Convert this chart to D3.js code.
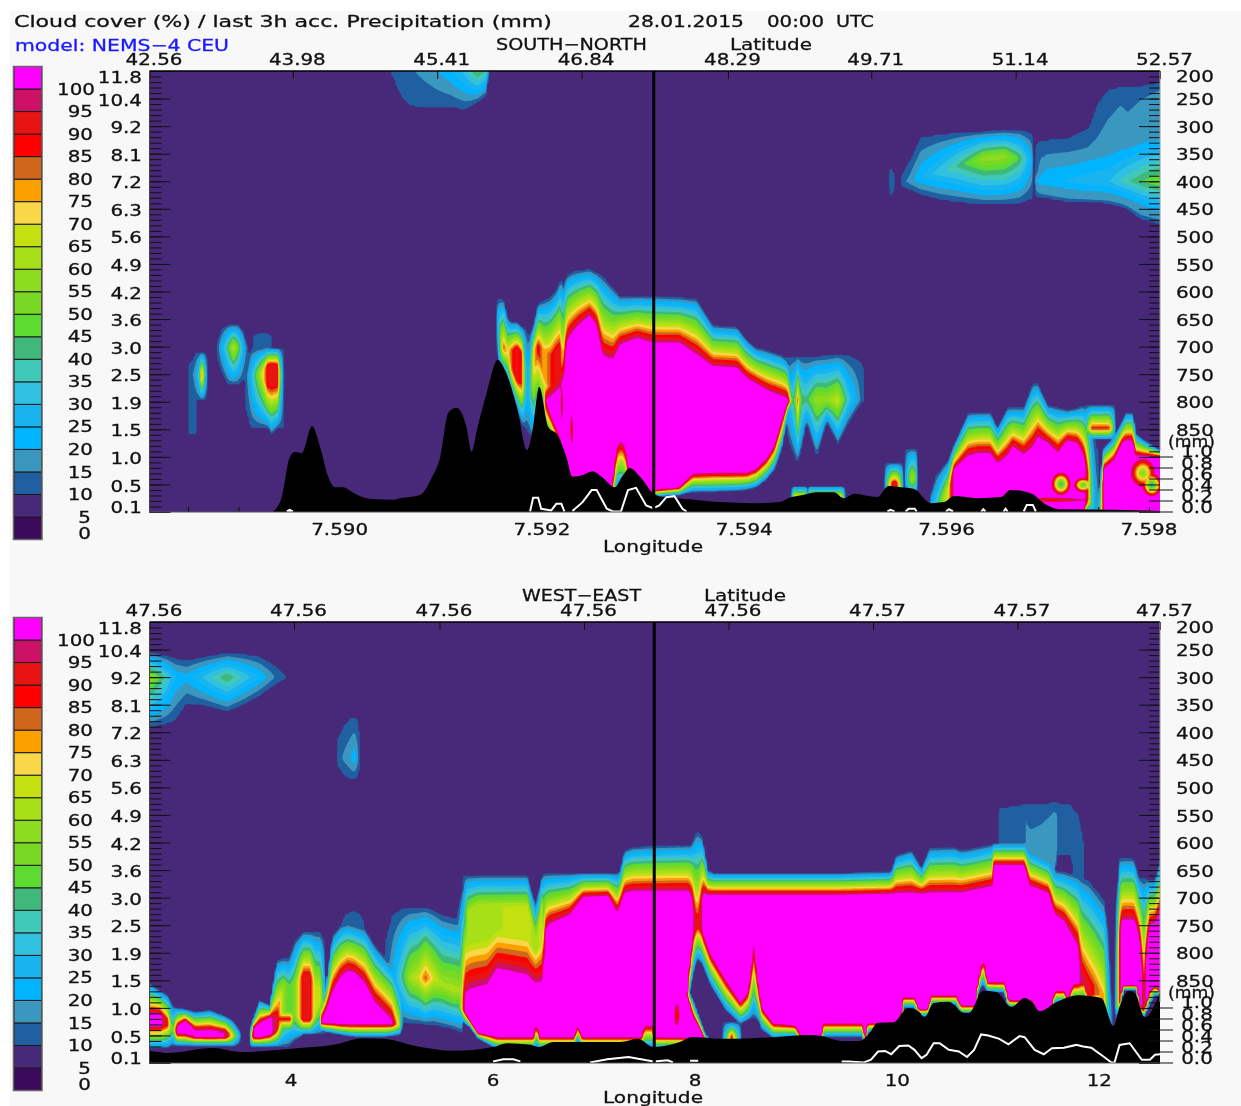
<html lang="en">
<head>
<meta charset="utf-8">
<title>Cloud cover cross sections</title>
<script src="https://cdnjs.cloudflare.com/ajax/libs/d3/7.8.5/d3.min.js"></script>
<style>
    body { margin: 0; background: #fff; }
    svg { display: block; filter: blur(0.45px); }
    text { font-family: "DejaVu Sans", sans-serif; fill: #111; stroke: #111; stroke-width: 0.3px; }
</style>
</head>
<body>
<div id="chart"></div>
<script>
// colour bar, from lowest band to highest
var coverLevels = [0, 5, 10, 15, 20, 25, 30, 35, 40, 45, 50, 55, 60, 65, 70, 75, 80, 85, 90, 95, 100];
var coverColors = ["#3c0a5c", "#482878", "#2060a0", "#3a98c0", "#00b4ff", "#18b4f0", "#30c0e0", "#40c8b8", "#40b87c", "#5cdc30",
    "#78d824", "#8cdc20", "#a8e018", "#c4e010", "#f8d848", "#fca000", "#d0661c", "#ff0000", "#e81414", "#cc1166", "#ff00ff"];

// vertical axes
var pressureMajor = [200, 250, 300, 350, 400, 450, 500, 550, 600, 650, 700, 750, 800, 850];
var heightLabels = ["11.8", "10.4", "9.2", "8.1", "7.2", "6.3", "5.6", "4.9", "4.2", "3.6", "3.0", "2.5", "1.9", "1.5", "1.0", "0.5", "0.1"];
var mmTicks = [0, 0.2, 0.4, 0.6, 0.8, 1];

// SOUTH-NORTH axes
var snLatTicks = [42.56, 43.98, 45.41, 46.84, 48.29, 49.71, 51.14, 52.57];
var snLonTicks = [7.590, 7.592, 7.594, 7.596, 7.598];

// WEST-EAST axes
var weLatLabels = ["47.56", "47.56", "47.56", "47.56", "47.56", "47.57", "47.57", "47.57"];
var weLatAt = [2.6, 4.03, 5.47, 6.9, 8.33, 9.76, 11.19, 12.6];
var weLonTicks = [4, 6, 8, 10, 12];

// terrain: position along the section, surface pressure (hPa)
var snTerrain = [[43.78,1000],[43.87,973],[43.95,900],[44.00,891],[44.07,893],[44.17,844],[44.25,882],[44.33,936],[44.40,955],[44.48,955],[44.57,964],[44.74,976],[44.97,978],[45.04,975],[45.24,969],[45.36,936],[45.44,900],[45.52,820],[45.60,811],[45.70,846],[45.75,891],[45.81,846],[45.90,784],[46.01,724],[46.08,742],[46.20,810],[46.30,888],[46.36,846],[46.42,773],[46.51,846],[46.60,860],[46.69,900],[46.75,936],[46.85,933],[46.95,926],[47.04,936],[47.17,955],[47.24,936],[47.32,920],[47.42,936],[47.55,966],[47.64,973],[47.84,976],[48.21,982],[48.54,984],[48.80,982],[48.92,973],[49.03,969],[49.17,964],[49.34,964],[49.44,975],[49.54,967],[49.77,973],[49.88,953],[50.00,955],[50.13,958],[50.30,984],[50.43,982],[50.53,971],[50.76,975],[50.99,973],[51.09,960],[51.29,966],[51.42,984],[51.58,995],[52.11,996],[52.57,998]];
var weTerrain = [[2.60,978],[2.77,982],[3.23,973],[3.50,980],[3.76,978],[4.09,973],[4.42,967],[4.71,955],[4.91,956],[5.28,971],[5.60,978],[6.00,971],[6.14,964],[6.37,967],[6.45,971],[6.60,962],[6.93,962],[7.26,962],[7.43,956],[7.59,971],[7.85,962],[7.97,953],[8.25,956],[8.58,955],[9.17,949],[9.25,951],[9.45,960],[9.62,960],[9.71,949],[9.81,927],[9.96,926],[10.11,900],[10.21,906],[10.27,917],[10.36,891],[10.51,889],[10.66,909],[10.71,909],[10.85,869],[10.98,871],[11.13,898],[11.26,882],[11.33,889],[11.41,906],[11.56,891],[11.79,877],[12.02,882],[12.14,933],[12.20,898],[12.29,869],[12.35,873],[12.45,917],[12.60,871]];

// precipitation line: position along the section, mm (null breaks the line)
var snPrecip = [[43.92,0],[43.95,.03],[43.98,0],[44,null],[46.33,0],[46.36,.25],[46.41,.25],[46.44,.05],[46.54,.02],[46.59,.14],[46.64,.14],[46.67,0],[46.7,null],[46.75,.01],[46.85,.17],[46.94,.39],[46.99,.39],[47.09,.05],[47.15,0],[47.23,0],[47.30,.39],[47.38,.43],[47.48,.11],[47.55,.06],[47.61,.11],[47.68,.26],[47.76,.28],[47.84,.05],[47.88,0],[47.9,null],[49.87,0],[49.90,.03],[49.94,0],[49.95,null],[50.05,0],[50.08,.05],[50.14,.05],[50.16,0],[50.2,null],[50.45,0],[50.48,.04],[50.52,0],[50.6,null],[50.80,0],[50.82,.04],[50.84,0],[50.9,null],[51.02,0],[51.04,.05],[51.06,0],[51.1,null],[51.22,0],[51.25,.12],[51.31,.12],[51.34,0]];
var wePrecip = [[6.00,.02],[6.10,.06],[6.20,.06],[6.27,.02],[6.3,null],[6.96,0],[7.13,.06],[7.34,.1],[7.52,.04],[7.59,.02],[7.73,.04],[7.78,0],[7.8,null],[7.95,.03],[8.03,.03],[8.1,null],[9.45,.02],[9.52,.02],[9.67,0],[9.74,.05],[9.81,.2],[9.88,.21],[9.94,.15],[10.02,.3],[10.11,.31],[10.17,.23],[10.24,.08],[10.29,.14],[10.36,.35],[10.42,.35],[10.51,.23],[10.61,.2],[10.69,.1],[10.76,.23],[10.83,.51],[10.90,.49],[11.01,.43],[11.10,.33],[11.21,.48],[11.26,.46],[11.36,.23],[11.45,.15],[11.53,.26],[11.65,.27],[11.77,.32],[11.84,.29],[11.92,.27],[12.04,.11],[12.12,0],[12.15,0],[12.20,.32],[12.30,.35],[12.42,.05],[12.50,.05],[12.55,.14],[12.60,.15]];

// cloud layers
// rows: position, p where cover reaches 10, p where peak starts, p where peak ends, p where cover is back to 10, peak cover
var snHighCirrus = [[44.94,150,160,200,202,10.5],[45.04,150,160,200,244,12],[45.14,150,160,200,265,14],[45.34,150,160,200,267,18],[45.54,150,160,200,267,24],[45.68,150,160,200,271,32],[45.81,150,160,200,258,47],[45.90,150,160,200,245,40],[45.92,150,160,200,202,10.5]];
var snUpperBlob = [[50.00,390,400,400,410,12],[50.09,361,400,400,416,17],[50.20,320,394,394,425,25],[50.39,314,383,383,434,33],[50.58,311,371,371,439,42],[50.83,309,358,358,443,58],[51.03,307,354,354,443,58],[51.18,307,358,358,441,45],[51.30,311,361,361,434,22],[51.32,343,370,370,416,10.5]];
var snSliver = [[49.88,395,400,400,405,10],[49.90,371,400,400,430,14],[49.93,380,400,400,425,13],[49.95,395,400,400,405,10]];
var snRightSheet = [[51.34,334,416,416,429,15],[51.39,325,387,416,430,19.9],[51.66,320,385,425,438,19.9],[51.86,303,372,427,439,19.9],[51.95,258,381,429,439,19.9],[52.05,234,343,429,441,19.9],[52.18,227,296,434,447,19.9],[52.25,227,322,439,452,19.9],[52.38,226,278,452,470,19.9],[52.57,220,249,461,479,19.9]];
var snRightCore = [[51.34,380,400,400,416,21],[51.43,325,400,400,421,24],[51.68,322,400,400,436,26],[52.07,307,400,400,439,30],[52.27,311,400,400,447,40],[52.42,303,400,400,461,46],[52.57,302,400,400,472,50]];
var snTail = [[42.94,728,740,850,860,10.5],[42.96,728,740,850,860,14],[43.02,728,740,850,860,14],[43.03,728,740,850,860,10]];
var snSpot1 = [[42.96,735,751,751,770,10.5],[43.01,710,751,751,797,18],[43.05,710,751,751,797,35],[43.08,710,745,757,797,88],[43.11,710,751,751,797,35],[43.13,710,751,751,797,12],[43.14,730,751,751,770,10]];
var snSpot2 = [[43.23,688,701,701,724,10.5],[43.28,666,701,701,751,25],[43.34,659,701,701,770,45],[43.39,659,701,701,770,66],[43.44,659,701,701,770,50],[43.49,670,701,701,761,25],[43.53,697,701,701,739,12],[43.54,699,701,701,710,10]];
var snSpot3 = [[43.51,751,751,751,815,10.5],[43.56,702,751,751,848,25],[43.61,702,751,751,848,45],[43.68,702,745,755,848,70],[43.73,702,733,770,848,90],[43.77,702,733,770,860,93],[43.83,702,733,770,848,90],[43.86,702,751,751,848,45],[43.88,702,751,751,848,20],[43.89,702,751,751,848,10]];
var snNub = [[43.58,680,688,706,733,10],[43.63,675,688,706,733,14],[43.73,675,688,706,733,14],[43.77,680,688,706,733,10]];
var snLeftTowers = [[45.99,640,650,670,690,10],[46.00,615,634,670,706,12],[46.03,612,670,706,746,45],[46.07,615,701,702,751,85],[46.11,648,706,715,770,70],[46.15,655,706,742,788,85],[46.20,655,702,760,815,92],[46.25,664,710,770,842,85],[46.29,666,742,779,851,28],[46.32,679,742,797,860,25],[46.36,664,706,751,869,70],[46.41,621,697,706,833,90],[46.47,615,706,761,869,75],[46.53,610,715,770,869,85],[46.59,597,706,851,978,92],[46.64,574,700,900,985,92],[46.66,600,750,880,960,10]];
var snRightTowers = [[48.85,717,797,797,833,20],[48.90,717,797,797,878,30],[48.96,717,797,797,906,50],[48.98,717,797,797,909,88],[49.01,717,797,797,897,45],[49.07,719,797,797,839,42],[49.17,717,797,797,902,60],[49.27,715,797,797,837,58],[49.38,713,797,797,878,68],[49.48,715,797,797,842,35],[49.56,721,797,797,818,22],[49.62,728,797,797,802,12],[49.64,740,797,797,800,10]];
var snGroundStrip = [[48.92,953,973,1010,1020,10],[48.94,953,973,1010,1020,75],[49.06,953,973,1010,1020,75],[49.08,953,973,1010,1020,10],[49.10,953,973,1010,1020,75],[49.42,953,973,1010,1020,75],[49.45,953,973,1010,1020,10]];
var snFinger1 = [[49.84,911,947,955,969,10],[49.88,911,947,955,969,60],[49.92,911,947,955,969,92],[49.96,911,947,955,969,92],[50.00,911,947,955,969,60],[50.03,911,947,955,969,10]];
var snFinger2 = [[50.04,884,933,942,978,10],[50.08,884,933,942,978,45],[50.11,884,933,942,978,58],[50.15,884,933,942,978,50],[50.17,884,933,942,978,10]];
var snShelf = [[51.82,806,848,849,869,10],[51.84,806,848,849,869,45],[51.89,806,848,849,869,88],[52.07,806,848,849,869,88],[52.11,806,848,849,869,45],[52.13,806,848,849,869,10]];

// the big low cloud (SN): top edge, bottom edge and peak rows kept apart
var snMainTop = [[46.48,724,797],[46.55,670,793],[46.62,615,784],[46.66,590,770],[46.69,570,697],[46.75,564,679],[46.82,561,664],[46.92,559,648],[46.99,565,666],[47.05,572,724],[47.15,592,730],[47.22,608,701],[47.39,608,688],[47.54,608,697],[47.81,610,697],[47.98,613,719],[48.14,661,739],[48.38,664,742],[48.48,688,761],[48.57,702,770],[48.67,706,782],[48.75,711,788],[48.82,715,793],[48.88,724,797],[48.93,788,797]];
var snMainBottom = [[46.48,797,869],[46.55,830,878],[46.62,860,906],[46.69,915,960],[46.75,996,1014],[47.10,996,1014],[47.15,942,996],[47.19,878,960],[47.23,866,960],[47.27,878,960],[47.31,924,996],[47.40,996,1014],[47.54,960,973],[47.81,955,969],[47.94,929,964],[48.14,927,964],[48.38,927,962],[48.48,927,960],[48.57,920,956],[48.67,902,942],[48.75,878,924],[48.82,833,888],[48.88,802,824],[48.93,797,806]];
var snMainPeak = [[46.47,10],[46.48,100],[46.55,105],[48.88,105],[48.92,60],[48.94,10]];
var snEastTop = [[50.30,966,987],[50.35,933,987],[50.47,906,960],[50.53,878,924],[50.67,820,902],[50.77,819,897],[50.89,819,897],[50.96,846,915],[51.06,810,902],[51.11,810,884],[51.22,810,900],[51.31,766,888],[51.36,766,869],[51.46,806,878],[51.56,810,897],[51.65,815,873],[51.75,811,878],[51.81,806,900],[51.85,815,924],[51.89,833,942],[51.93,869,960],[51.96,888,987]];
var snEastBottom = [[50.30,1005,1015],[51.80,1005,1015],[51.85,978,1000],[51.96,1005,1015]];
var snEastPeak = [[50.29,10],[50.30,25],[50.35,35],[50.47,70],[50.53,105],[51.81,105],[51.85,95],[51.89,40],[51.93,20],[51.96,15],[51.97,10]];
var snFarEast = [[51.96,960,987,1005,1015,10],[51.97,960,987,1005,1015,25],[52.01,884,924,1005,1015,105],[52.11,864,909,1005,1015,105],[52.20,833,875,1005,1015,105],[52.23,820,873,1005,1015,105],[52.30,820,873,1005,1015,105],[52.33,857,900,1005,1015,105],[52.41,869,900,1005,1015,105],[52.57,888,900,1005,1015,105]];
// dips inside the solid cloud: position, p, half widths, lowest cover
var snHoles = [[46.65,802,.015,50,85],[46.74,851,.015,35,85],[51.59,949,.1,22,35],[51.81,951,.1,14,40],[51.5,978,.45,5,85],[52.40,929,.13,28,50],[52.49,951,.1,22,30]];

// WEST-EAST layers
var weUpperBand = [[2.60,254,300,300,391,58],[2.75,260,300,300,387,40],[2.85,265,300,300,381,25],[2.97,269,300,300,349,22],[3.15,262,300,300,353,32],[3.37,256,300,300,363,45],[3.55,258,300,300,349,33],[3.69,262,300,300,335,25],[3.84,278,300,300,315,15],[3.96,298,300,300,302,10]];
var weThinBlob = [[4.45,414,447,447,459,10.5],[4.52,387,447,447,478,16],[4.59,372,447,447,487,20],[4.63,372,447,447,487,24],[4.67,378,447,447,478,15],[4.68,400,447,447,470,10]];
var weLowLeft = [[2.60,855,913,931,973,105],[2.70,868,913,931,973,105],[2.78,877,922,931,973,88],[2.83,895,940,940,969,40],[2.87,900,936,946,969,103],[2.95,902,924,946,969,105],[3.05,907,940,953,969,100],[3.20,904,940,953,969,102],[3.35,915,944,953,969,100],[3.42,922,949,951,971,70],[3.48,936,949,951,967,30],[3.51,945,949,950,960,10]];
var weTower = [[3.60,935,951,953,971,60],[3.63,918,936,953,971,100],[3.69,886,929,953,971,103],[3.79,895,918,949,971,103],[3.86,813,918,940,971,95],[3.92,810,859,922,971,60],[3.98,810,859,922,971,45],[4.04,777,859,913,960,55],[4.12,762,840,922,949,92],[4.19,762,840,922,949,92],[4.24,762,859,913,949,65],[4.29,762,868,886,949,70],[4.33,777,886,895,949,30],[4.35,880,904,908,949,15],[4.36,890,904,908,949,10]];
var weRedStrip = [[3.70,895,918,922,949,10],[3.75,895,918,922,949,88],[4.00,895,918,922,949,88],[4.05,895,918,922,949,10]];
var weTriangle = [[4.29,886,926,927,940,100],[4.35,859,904,927,944,105],[4.41,768,877,927,946,105],[4.49,750,849,929,949,105],[4.56,746,837,929,951,105],[4.63,750,840,929,953,105],[4.73,755,859,929,953,105],[4.83,786,895,929,953,105],[4.93,808,913,929,953,105],[5.00,822,927,929,951,105],[5.08,859,929,931,949,60],[5.10,880,929,931,940,10]];
var weNub = [[4.50,745,750,755,768,10],[4.53,730,741,755,768,13],[4.62,722,741,755,768,14],[4.69,730,741,755,768,13],[4.73,745,750,755,768,10]];
var weDiamond = [[4.93,777,840,840,913,10.5],[5.00,731,840,849,927,20],[5.10,719,840,849,927,40],[5.18,717,840,849,929,60],[5.26,717,846,846,929,68],[5.33,717,846,846,931,84],[5.41,722,846,846,931,70],[5.50,731,859,859,935,62],[5.62,737,868,868,940,64],[5.69,737,868,868,946,60]];
var wePlateau = [[5.70,659,730,860,875,10],[5.74,659,725,860,880,60],[5.85,659,715,860,880,64],[6.34,659,715,840,860,66],[6.37,681,735,840,860,66],[6.42,710,770,840,860,60],[6.46,681,745,840,860,66],[6.49,655,705,760,800,66],[6.52,655,705,740,770,10]];
var weWedge = [[7.91,862,877,1010,1020,10],[7.92,862,877,1010,1020,105],[7.98,886,917,1010,1020,105],[8.05,922,940,1010,1020,105],[8.10,949,958,1010,1020,105],[8.13,949,958,1010,1020,10]];
var weCone = [[8.27,926,951,1010,1020,10],[8.36,926,951,1010,1020,92],[8.46,926,951,1010,1020,10]];
var weSheet = [[11.01,537,545,614,632,14],[11.26,530,545,625,640,14],[11.32,530,614,630,650,19],[11.42,528,600,640,660,19],[11.52,527,570,650,668,19],[11.56,527,554,650,668,19],[11.58,527,550,612,625,14],[11.72,530,555,612,625,14],[11.75,540,555,660,668,14],[11.79,546,560,660,668,14],[11.85,600,620,665,680,10]];
var weEnd = [[12.15,704,886,897,920,10],[12.17,704,886,897,920,30],[12.18,680,800,897,915,60],[12.20,628,768,897,910,90],[12.21,628,750,880,890,105],[12.24,628,746,859,868,105],[12.32,628,746,859,868,105],[12.35,632,746,859,868,105],[12.37,650,760,859,868,105],[12.39,663,771,886,895,105],[12.41,664,800,900,915,105],[12.44,664,868,905,917,92],[12.47,666,790,890,905,105],[12.50,668,753,868,895,105],[12.55,668,750,859,877,105],[12.60,632,728,868,880,105]];

var weMainTop = [[5.63,735,880],[5.72,664,885],[5.77,659,877],[5.85,659,872],[5.94,659,868],[6.04,659,837],[6.34,659,849],[6.37,681,855],[6.42,710,862],[6.46,681,862],[6.49,655,862],[6.52,655,764],[6.55,655,753],[6.76,655,735],[6.89,655,701],[7.14,655,699],[7.23,655,731],[7.26,650,715],[7.30,614,695],[7.39,608,692],[7.59,606,692],[7.93,604,692],[7.96,604,700],[8.02,577,750],[8.07,590,697],[8.10,620,697],[8.12,650,697],[8.18,655,697],[9.44,655,697],[9.94,653,695],[9.99,623,695],[10.14,614,695],[10.24,646,695],[10.32,610,695],[10.57,608,695],[10.63,614,695],[10.76,610,690],[10.94,603,683],[10.95,601,643],[11.26,601,643],[11.31,615,681],[11.50,632,695],[11.56,650,735],[11.65,653,746],[11.79,659,795],[11.82,663,831],[11.89,668,862],[11.95,681,859],[12.05,704,877],[12.09,759,904],[12.12,868,931],[12.14,900,940]];
var weMainBottom = [[5.63,898,905],[5.72,905,930],[5.77,922,935],[5.85,946,955],[5.94,948,965],[6.04,952,975],[6.40,952,975],[6.43,925,971],[6.46,952,975],[6.80,952,975],[6.84,932,960],[6.88,952,975],[7.47,952,975],[7.50,930,973],[7.57,930,973],[7.60,952,975],[7.91,953,973],[7.92,886,905],[7.95,813,868],[7.98,768,840],[8.02,750,813],[8.07,759,822],[8.15,800,859],[8.30,846,905],[8.45,889,930],[8.53,867,922],[8.58,782,918],[8.63,867,925],[8.66,898,940],[8.77,927,955],[8.99,931,953],[9.07,958,975],[9.24,958,975],[9.27,927,953],[9.65,927,953],[9.69,958,975],[9.71,927,945],[9.79,927,945],[9.83,960,980],[10.02,950,960],[10.06,880,900],[10.17,880,900],[10.21,902,915],[10.30,902,915],[10.34,877,895],[10.58,877,895],[10.63,895,912],[10.78,895,912],[10.80,853,871],[10.85,808,859],[10.89,853,871],[11.06,853,873],[11.10,886,900],[11.34,886,900],[11.38,905,915],[11.52,905,915],[11.56,868,891],[11.65,868,891],[11.69,886,895],[11.74,855,891],[11.85,855,891],[11.88,878,895],[12.00,877,891],[12.05,895,910],[12.14,950,960]];
var weMainPeak = [[5.63,10],[5.66,35],[5.72,105],[7.97,105],[8.00,92],[8.05,92],[8.08,105],[11.79,105],[11.82,95],[11.89,95],[11.95,85],[12.05,75],[12.09,30],[12.12,15],[12.14,10]];
var weHoles = [[7.82,913,.03,25,80]];

function fromRows(rows) {
    return {
        top: rows.map(function(r) { return [r[0], r[1], r[2]]; }),
        bottom: rows.map(function(r) { return [r[0], r[3], r[4]]; }),
        peak: rows.map(function(r) { return [r[0], r[5]]; })
    };
}

var snBodies = [snHighCirrus, snUpperBlob, snSliver, snRightSheet, snRightCore, snTail, snSpot1, snSpot2, snSpot3, snNub, snLeftTowers,
    snRightTowers, snGroundStrip, snFinger1, snFinger2, snShelf, snFarEast].map(fromRows)
    .concat([{top: snMainTop, bottom: snMainBottom, peak: snMainPeak}, {top: snEastTop, bottom: snEastBottom, peak: snEastPeak}]);
var weBodies = [weUpperBand, weThinBlob, weLowLeft, weTower, weRedStrip, weTriangle, weNub, weDiamond, wePlateau, weWedge, weCone, weSheet, weEnd].map(fromRows)
    .concat([{top: weMainTop, bottom: weMainBottom, peak: weMainPeak}]);

var bisectX = d3.bisector(function(r) { return r[0]; }).right;

function at(rows, x, col) {
    var i = bisectX(rows, x);
    if (i <= 0) return rows[0][col];
    if (i >= rows.length) return rows[rows.length - 1][col];
    var a = rows[i - 1], b = rows[i];
    return a[col] + (b[col] - a[col]) * (x - a[0]) / (b[0] - a[0]);
}

// turns the column rows into a grid for d3.contours
function buildField(x0, x1, bodies, holes, nx, ny) {
    var dx = (x1 - x0) / (nx - 1), dp = 800 / (ny - 1);
    var values = new Float64Array(nx * ny).fill(7);
    bodies.forEach(function(b) {
        var first = b.peak[0][0], last = b.peak[b.peak.length - 1][0];
        for (var i = 0; i < nx; i++) {
            var x = x0 + i * dx;
            if (x < first || x > last) continue;
            var t0 = at(b.top, x, 1), t1 = at(b.top, x, 2), b1 = at(b.bottom, x, 1), b0 = at(b.bottom, x, 2), peak = at(b.peak, x, 1);
            if (t1 > b1) t1 = b1 = (t1 + b1) / 2;
            for (var j = 0; j < ny; j++) {
                var p = 200 + j * dp, v;
                if (p < t0 || p > b0) continue;
                if (p < t1) v = 10 + (peak - 10) * (p - t0) / (t1 - t0);
                else if (p <= b1) v = peak;
                else v = 10 + (peak - 10) * (b0 - p) / (b0 - b1);
                if (v > values[j * nx + i]) values[j * nx + i] = v;
            }
        }
    });
    holes.forEach(function(h) {
        for (var i = 0; i < nx; i++) {
            var tx = (x0 + i * dx - h[0]) / h[2];
            if (Math.abs(tx) >= 1) continue;
            for (var j = 0; j < ny; j++) {
                var tp = (200 + j * dp - h[1]) / h[3];
                var t = Math.sqrt(tx * tx + tp * tp);
                if (t < 1) {
                    var v = h[4] + (105 - h[4]) * t;
                    if (v < values[j * nx + i]) values[j * nx + i] = v;
                }
            }
        }
    });
    return {values: values, dx: dx, dp: dp};
}

var fullwidth = 1241, fullheight = 1106;
var left = 149.5, right = 1160, plotHeight = 441;
var hscale = 1.24;

var svg = d3.select("#chart").append("svg").attr("width", fullwidth).attr("height", fullheight);
svg.append("rect").attr("x", 10).attr("y", 11).attr("width", fullwidth - 10).attr("height", fullheight - 11).attr("fill", "#f8f8f8");

function label(g, x, y, str, anchor, width) {
    var t = g.append("text").attr("x", x).attr("y", y).attr("dy", ".35em").attr("font-size", 16)
        .attr("text-anchor", anchor || "middle").text(str);
    var w = width || t.node().getComputedTextLength() * hscale;
    t.attr("textLength", w).attr("lengthAdjust", "spacingAndGlyphs");
    return t;
}

// titles
label(svg, 14, 21, "Cloud cover (%) / last 3h acc. Precipitation (mm)", "start", 538);
label(svg, 628, 21, "28.01.2015", "start", 116);
label(svg, 767, 21, "00:00", "start", 57);
label(svg, 836, 21, "UTC", "start", 38);
label(svg, 15, 45, "model: NEMS\u22124 CEU", "start", 214).style("fill", "#1a1aff").style("stroke", "#1a1aff");

function drawPanel(cfg) {
    var top = cfg.top, bottom = top + plotHeight;
    var g = svg.append("g");
    var x = d3.scaleLinear().domain(cfg.domain).range([left, right]);
    var y = d3.scaleLinear().domain([200, 1000]).range([top, bottom]);
    var mm = d3.scaleLinear().domain([0, 1]).range([bottom - 0.5, bottom - 55.5]);

    // colour bar
    var barTop = top - 4.5;
    var band = d3.scaleBand().domain(coverLevels.slice().reverse()).range([barTop, barTop + 473]);
    var color = d3.scaleOrdinal().domain(coverLevels).range(coverColors);
    g.selectAll("rect.box").data(coverLevels).enter().append("rect")
        .attr("class", "box")
        .attr("x", 14).attr("width", 27.5)
        .attr("y", function(d) { return band(d); })
        .attr("height", band.bandwidth())
        .attr("fill", function(d) { return color(d); })
        .attr("stroke", "#1a1a1a").attr("stroke-width", 1);
    g.append("rect").attr("x", 13.5).attr("y", barTop).attr("width", 28.5).attr("height", 473)
        .attr("fill", "none").attr("stroke", "#666").attr("stroke-width", 1.5);
    coverLevels.forEach(function(d) {
        var yy = Math.min(band(d) + band.bandwidth(), barTop + 467);
        label(g, d == 100 ? 95 : (d < 10 ? 91 : 93), yy, String(d), "end");
    });

    // filled contours
    g.append("rect").attr("x", left).attr("y", top).attr("width", right - left).attr("height", plotHeight).attr("fill", color(5));
    var nx = 506, ny = 221;
    var field = buildField(cfg.domain[0], cfg.domain[1], cfg.bodies, cfg.holes, nx, ny);
    var levels = coverLevels.slice(2);
    var contours = d3.contours().size([nx, ny]).thresholds(levels)(field.values);
    var path = d3.geoPath(d3.geoTransform({
        point: function(cx, cy) {
            var xv = Math.max(cfg.domain[0], Math.min(cfg.domain[1], cfg.domain[0] + (cx - 0.5) * field.dx));
            var pv = Math.max(200, Math.min(1000, 200 + (cy - 0.5) * field.dp));
            this.stream.point(x(xv), y(pv));
        }
    }));
    g.selectAll("path.band").data(contours).enter().append("path")
        .attr("class", "band")
        .attr("d", path)
        .attr("fill", function(d) { return color(d.value); });

    // pressure ticks
    var tickColor = "#111";
    function ticks(axis, tx) {
        var a = g.append("g").attr("transform", "translate(" + tx + ",0)").call(axis);
        a.select(".domain").remove();
        a.selectAll("line").attr("stroke", tickColor);
        return a;
    }
    ticks(d3.axisRight(y).tickValues(d3.range(200, 1001, 10)).tickSize(12).tickFormat(""), left);
    ticks(d3.axisRight(y).tickValues(d3.range(200, 1001, 50)).tickSize(21).tickFormat(""), left);
    ticks(d3.axisLeft(y).tickValues(d3.range(200, 891, 10)).tickSize(11).tickFormat(""), right);
    ticks(d3.axisLeft(y).tickValues(d3.range(200, 1001, 50)).tickSize(21).tickFormat(""), right);

    // horizontal ticks
    ticks(d3.axisBottom(x).tickValues(cfg.topTicks).tickSize(8).tickFormat(""), 0).attr("transform", "translate(0," + top + ")");
    ticks(d3.axisTop(cfg.lonScale).tickValues(cfg.lonMinor).tickSize(5).tickFormat(""), 0).attr("transform", "translate(0," + bottom + ")");

    // terrain
    var terrain = d3.area().curve(d3.curveMonotoneX).x(function(d) { return x(d[0]); }).y0(bottom).y1(function(d) { return y(d[1]); });
    g.append("path").datum(cfg.terrain).attr("d", terrain).attr("fill", "#000");

    // precipitation
    var line = d3.line().defined(function(d) { return d[1] != null; })
        .x(function(d) { return x(d[0]); }).y(function(d) { return mm(d[1]); });
    g.append("path").datum(cfg.precip).attr("d", line).attr("fill", "none").attr("stroke", "#fff").attr("stroke-width", 2);

    // mm axis
    ticks(d3.axisLeft(mm).tickValues(mmTicks).tickSize(24).tickFormat(""), right + 13);

    // section marker and frame
    g.append("line").attr("x1", x(cfg.marker)).attr("x2", x(cfg.marker)).attr("y1", top).attr("y2", bottom)
        .attr("stroke", "#000").attr("stroke-width", 3);
    g.append("line").attr("x1", left).attr("x2", right).attr("y1", top).attr("y2", top).attr("stroke", "#000").attr("stroke-width", 1.5);
    g.append("line").attr("x1", left).attr("x2", left).attr("y1", top).attr("y2", bottom).attr("stroke", "#444").attr("stroke-width", 1);
    g.append("line").attr("x1", right).attr("x2", right).attr("y1", top).attr("y2", top + 380).attr("stroke", "#999").attr("stroke-width", 1);
    g.append("line").attr("x1", left).attr("x2", right).attr("y1", bottom).attr("y2", bottom).attr("stroke", "#555").attr("stroke-width", 1);

    // labels
    heightLabels.forEach(function(d, i) {
        var yy = Math.max(top + 6, Math.min(bottom - 5, y(200 + i * 50) + 1.5));
        label(g, 142, yy, d, "end");
    });
    pressureMajor.forEach(function(d) {
        label(g, 1176, d == 200 ? top + 5 : y(d) + 1, String(d), "start");
    });
    label(g, 1168, top + 370, "(mm)", "start", 47);
    mmTicks.forEach(function(d) {
        label(g, 1197, mm(d) - 4 + (d == 1 ? -1 : 0), d.toFixed(1), "middle");
    });
    cfg.topTicks.forEach(function(d, i) {
        label(g, x(d) + 4.5, top - 12, cfg.topLabels[i]);
    });
    cfg.lonTicks.forEach(function(d) {
        label(g, cfg.lonScale(d), bottom + 17, cfg.lonFormat(d));
    });
    label(g, 653, bottom + 34, "Longitude", "middle", 100);
    label(g, cfg.sectionAt, top - 27, cfg.section, "start", cfg.sectionWidth);
    label(g, cfg.latAt, top - 27, "Latitude", "start", 82);
}

drawPanel({
    top: 71,
    domain: [42.56, 52.57],
    bodies: snBodies,
    holes: snHoles,
    terrain: snTerrain,
    precip: snPrecip,
    marker: 47.555,
    topTicks: snLatTicks,
    topLabels: snLatTicks.map(function(d) { return d.toFixed(2); }),
    lonScale: d3.scaleLinear().domain([7.58812, 7.59811]).range([left, right]),
    lonTicks: snLonTicks,
    lonMinor: d3.range(7.5885, 7.5981, 0.0005),
    lonFormat: d3.format(".3f"),
    section: "SOUTH\u2212NORTH",
    sectionAt: 496,
    sectionWidth: 151,
    latAt: 730
});

drawPanel({
    top: 622,
    domain: [2.6, 12.6],
    bodies: weBodies,
    holes: weHoles,
    terrain: weTerrain,
    precip: wePrecip,
    marker: 7.595,
    topTicks: weLatAt,
    topLabels: weLatLabels,
    lonScale: d3.scaleLinear().domain([2.6, 12.6]).range([left, right]),
    lonTicks: weLonTicks,
    lonMinor: d3.range(3, 12.6, 0.5),
    lonFormat: d3.format("d"),
    section: "WEST\u2212EAST",
    sectionAt: 522,
    sectionWidth: 119,
    latAt: 704
});
</script>
</body>
</html>
